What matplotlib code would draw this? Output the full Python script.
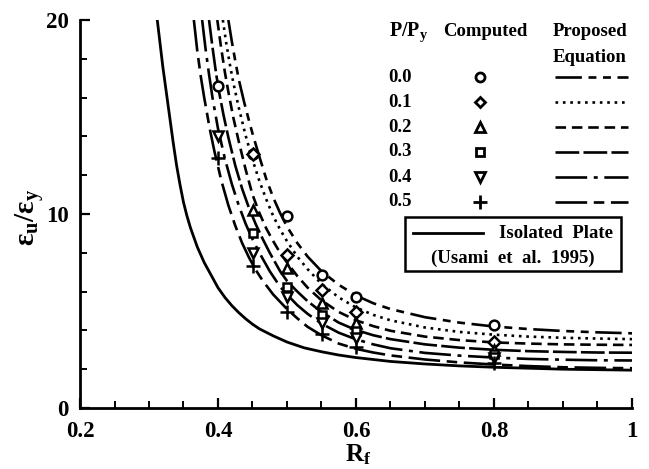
import numpy as np
import matplotlib
matplotlib.use("Agg")
import matplotlib.pyplot as plt
from matplotlib.lines import Line2D
from matplotlib.patches import Rectangle

plt.rcParams['font.family'] = ['Liberation Serif', 'DejaVu Serif']
plt.rcParams['font.weight'] = 'bold'
plt.rcParams['mathtext.fontset'] = 'custom'
plt.rcParams['mathtext.rm'] = 'Liberation Serif:bold'
plt.rcParams['mathtext.it'] = 'Liberation Serif:bold'
plt.rcParams['mathtext.bf'] = 'Liberation Serif:bold'

# --- datos ---
# placa aislada (Usami et al. 1995)
rf_iso = [0.312, 0.316, 0.32, 0.325, 0.33, 0.335, 0.34, 0.345, 0.35, 0.355,
          0.36, 0.37, 0.38, 0.39, 0.40, 0.41, 0.42, 0.43, 0.44, 0.45, 0.46,
          0.48, 0.50, 0.525, 0.55, 0.575, 0.60, 0.65, 0.70, 0.75, 0.80,
          0.90, 1.00]
eu_iso = [20.0, 18.8, 17.6, 16.3, 15.0, 13.7, 12.5, 11.5, 10.6, 9.9,
          9.3, 8.3, 7.5, 6.85, 6.2, 5.7, 5.28, 4.92, 4.6, 4.32, 4.08,
          3.72, 3.4, 3.1, 2.9, 2.73, 2.6, 2.4, 2.27, 2.17, 2.1,
          2.0, 1.95]

# ecuacion propuesta, P/Py = 0.0 ... 0.5
rf_p00 = [0.415, 0.42, 0.425, 0.43, 0.438, 0.445, 0.45, 0.46, 0.47, 0.48,
          0.49, 0.50, 0.515, 0.53, 0.55, 0.575, 0.60, 0.625, 0.65, 0.70,
          0.75, 0.80, 0.85, 0.90, 0.95, 1.00]
eu_p00 = [20.0, 18.9, 17.9, 16.95, 15.75, 14.8, 14.15, 12.95, 11.8, 10.85,
          10.05, 9.35, 8.5, 7.8, 7.05, 6.35, 5.8, 5.4, 5.1, 4.68,
          4.4, 4.2, 4.07, 3.97, 3.9, 3.85]

rf_p01 = [0.407, 0.412, 0.417, 0.422, 0.43, 0.44, 0.45, 0.46, 0.47, 0.48,
          0.49, 0.50, 0.515, 0.53, 0.55, 0.575, 0.60, 0.625, 0.65, 0.70,
          0.75, 0.80, 0.85, 0.90, 0.95, 1.00]
eu_p01 = [20.0, 18.8, 17.75, 16.8, 15.5, 14.05, 12.8, 11.7, 10.75, 9.9,
          9.2, 8.6, 7.8, 7.15, 6.4, 5.7, 5.18, 4.8, 4.52, 4.15,
          3.92, 3.78, 3.68, 3.62, 3.58, 3.55]

rf_p02 = [0.399, 0.404, 0.41, 0.415, 0.422, 0.43, 0.44, 0.45, 0.46, 0.47,
          0.48, 0.49, 0.50, 0.515, 0.53, 0.55, 0.575, 0.60, 0.625, 0.65,
          0.70, 0.75, 0.80, 0.85, 0.90, 0.95, 1.00]
eu_p02 = [20.0, 18.7, 17.3, 16.3, 15.0, 13.75, 12.3, 11.0, 10.05, 9.25,
          8.6, 8.0, 7.5, 6.8, 6.2, 5.55, 4.95, 4.52, 4.22, 3.98,
          3.68, 3.5, 3.38, 3.32, 3.28, 3.26, 3.25]

rf_p03 = [0.387, 0.392, 0.397, 0.401, 0.408, 0.415, 0.425, 0.435, 0.445,
          0.455, 0.465, 0.475, 0.49, 0.50, 0.515, 0.53, 0.55, 0.575, 0.60,
          0.625, 0.65, 0.70, 0.75, 0.80, 0.85, 0.90, 0.95, 1.00]
eu_p03 = [20.0, 18.6, 17.3, 16.4, 15.1, 13.95, 12.5, 11.3, 10.3,
          9.45, 8.7, 8.0, 7.05, 6.55, 6.0, 5.5, 4.95, 4.4, 4.02,
          3.75, 3.55, 3.28, 3.11, 3.0, 2.93, 2.89, 2.86, 2.85]

rf_p04 = [0.377, 0.382, 0.387, 0.392, 0.40, 0.41, 0.42, 0.43, 0.44, 0.45,
          0.46, 0.475, 0.49, 0.50, 0.515, 0.53, 0.55, 0.575, 0.60, 0.625,
          0.65, 0.70, 0.75, 0.80, 0.85, 0.90, 0.95, 1.00]
eu_p04 = [20.0, 18.5, 17.2, 16.0, 14.4, 12.85, 11.55, 10.45, 9.5, 8.7,
          8.0, 7.05, 6.25, 5.85, 5.3, 4.85, 4.35, 3.88, 3.54, 3.28,
          3.08, 2.84, 2.7, 2.6, 2.53, 2.49, 2.46, 2.45]

rf_p05 = [0.365, 0.37, 0.375, 0.38, 0.388, 0.395, 0.405, 0.415, 0.425,
          0.435, 0.445, 0.455, 0.465, 0.48, 0.50, 0.515, 0.53, 0.55, 0.575,
          0.60, 0.625, 0.65, 0.70, 0.75, 0.80, 0.85, 0.90, 0.95, 1.00]
eu_p05 = [20.0, 18.4, 17.1, 16.0, 14.4, 13.2, 11.7, 10.45, 9.4,
          8.5, 7.75, 7.1, 6.55, 5.85, 5.1, 4.62, 4.18, 3.75, 3.32,
          3.05, 2.86, 2.71, 2.5, 2.35, 2.24, 2.16, 2.1, 2.07, 2.05]

# resultados calculados (marcadores)
rf_c00 = [0.40, 0.45, 0.50, 0.55, 0.60, 0.80]
eu_c00 = [16.6, 13.1, 9.9, 6.85, 5.7, 4.3]
rf_c01 = [0.45, 0.50, 0.55, 0.60, 0.80]
eu_c01 = [13.1, 7.9, 6.1, 4.95, 3.4]
rf_c02 = [0.45, 0.50, 0.55, 0.60, 0.80]
eu_c02 = [10.2, 7.2, 5.4, 4.4, 3.0]
rf_c03 = [0.45, 0.50, 0.55, 0.60, 0.80]
eu_c03 = [9.0, 6.25, 4.8, 3.95, 2.8]
rf_c04 = [0.40, 0.45, 0.50, 0.55, 0.60, 0.80]
eu_c04 = [14.0, 8.0, 5.7, 4.4, 3.6, 2.6]
rf_c05 = [0.40, 0.45, 0.50, 0.55, 0.60, 0.80]
eu_c05 = [12.9, 7.3, 4.95, 3.8, 3.15, 2.3]

p_labels = ['0.0', '0.1', '0.2', '0.3', '0.4', '0.5']

# estilos
markers = ['o', 'D', '^', 's', 'v', '+']
msizes = [7, 6, 7, 6, 7, 10]
dashes = [(0, (10, 2.5, 3, 2.5, 3, 2.5)),
          (0, (1, 1.8)),
          (0, (4, 2.2)),
          (0, (9, 1.6)),
          (0, (12, 2.5, 1.5, 2.5)),
          (0, (12, 2.5, 4, 2.5))]

W, H = 649, 469
fig = plt.figure(figsize=(W / 100, H / 100), dpi=100)
ax = fig.add_axes([80 / W, 1 - 408 / H, (632 - 80) / W, (408 - 20) / H])

curves = [(rf_p00, eu_p00), (rf_p01, eu_p01), (rf_p02, eu_p02),
          (rf_p03, eu_p03), (rf_p04, eu_p04), (rf_p05, eu_p05)]
computed = [(rf_c00, eu_c00), (rf_c01, eu_c01), (rf_c02, eu_c02),
            (rf_c03, eu_c03), (rf_c04, eu_c04), (rf_c05, eu_c05)]

ax.plot(rf_iso, eu_iso, color='black', lw=2.0, solid_joinstyle='round')
for (x, y), ls in zip(curves, dashes):
    ax.plot(x, y, color='black', lw=1.9, linestyle=ls)
for (x, y), m, ms in zip(computed, markers, msizes):
    ax.plot(x, y, linestyle='none', marker=m, ms=ms, mfc='white',
            mec='black', mew=1.8, zorder=5)

ax.set_xlim(0.2, 1.0)
ax.set_ylim(0, 20)
for s in ['top', 'right']:
    ax.spines[s].set_visible(False)
for s in ['left', 'bottom']:
    ax.spines[s].set_linewidth(2.0)
ax.set_xticks([0.2, 0.4, 0.6, 0.8, 1.0])
ax.set_xticklabels(['0.2', '0.4', '0.6', '0.8', '1'])
ax.set_xticks(np.arange(0.25, 1.0, 0.05), minor=True)
ax.set_yticks([0, 10, 20])
ax.set_yticklabels(['0', '10', '20'])
ax.set_yticks(np.arange(2, 20, 2), minor=True)
ax.tick_params(which='major', direction='in', length=7, width=1.6,
               labelsize=16.5)
ax.tick_params(axis='x', which='major', pad=9)
ax.tick_params(axis='y', which='major', pad=8)
ax.tick_params(which='minor', direction='in', length=5, width=1.4)

fig.text(30 / W, 1 - 217 / H, r'$\varepsilon_u/\varepsilon_y$', rotation=90,
         ha='center', va='center', fontsize=21)
fig.text(358 / W, 1 - 455 / H, r'$R_f$', ha='center', va='center',
         fontsize=18)


def fx(px):
    return px / W


def fy(py):
    return 1 - py / H


# leyenda tipo tabla
fs = 13.5
fig.text(fx(409), fy(32), r'$P/P_y$', ha='center', va='center', fontsize=fs + 1)
fig.text(fx(485), fy(32), 'Computed', ha='center', va='center', fontsize=fs)
fig.text(fx(590), fy(32), 'Proposed', ha='center', va='center', fontsize=fs)
fig.text(fx(590), fy(57), 'Equation', ha='center', va='center', fontsize=fs)
for i, lab in enumerate(p_labels):
    yy = 77 + 25 * i
    fig.text(fx(400), fy(yy), lab, ha='center', va='center', fontsize=fs)
    fig.add_artist(Line2D([fx(480)], [fy(yy)], linestyle='none',
                          marker=markers[i], ms=msizes[i] - 0.5, mfc='white',
                          mec='black', mew=2.0))
    fig.add_artist(Line2D([fx(555), fx(628)], [fy(yy), fy(yy)], color='black',
                          lw=1.9, linestyle=dashes[i]))

fig.add_artist(Rectangle((fx(405), fy(271)), fx(621) - fx(405),
                         fy(217) - fy(271), transform=fig.transFigure,
                         fill=False, ec='black', lw=1.8))
fig.add_artist(Line2D([fx(413), fx(483)], [fy(233), fy(233)], color='black',
                      lw=2.0))
fig.text(fx(556), fy(233), 'Isolated  Plate', ha='center', va='center',
         fontsize=fs)
fig.text(fx(513), fy(258), '(Usami  et  al.  1995)', ha='center', va='center',
         fontsize=fs)

fig.savefig('out.png', dpi=100)
